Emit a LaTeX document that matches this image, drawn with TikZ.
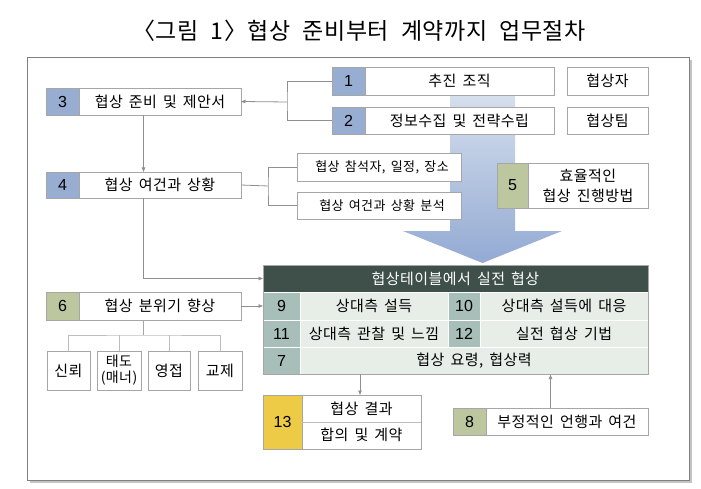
\documentclass[tikz,border=0pt]{standalone}
\usepackage{fontspec}
\setmainfont{Noto Sans CJK KR}[WordSpace=1.6, LetterSpace=3]
\newfontfamily\numfont{Liberation Sans}
\newfontfamily\titlefont{Noto Sans CJK KR}[WordSpace=2.2, LetterSpace=2]
\usetikzlibrary{arrows.meta,calc}
\definecolor{cblue}{HTML}{97ADD2}
\definecolor{colive}{HTML}{BCC7A0}
\definecolor{cyellow}{HTML}{EECB47}
\definecolor{chead}{HTML}{3E5049}
\definecolor{cnum}{HTML}{A8BFB9}
\definecolor{ccell}{HTML}{E7EEE8}
\definecolor{cborder}{HTML}{A6A6A6}
\definecolor{cline}{HTML}{8F8F8F}
\definecolor{ctree}{HTML}{BDBDBD}
\definecolor{carrowtop}{HTML}{D8E1EE}
\definecolor{carrowbot}{HTML}{93AAD3}
\definecolor{cframe}{HTML}{7F7F7F}
\definecolor{cshadow}{HTML}{C4C4C4}
\begin{document}
\begin{tikzpicture}[x=1pt,y=-1pt,
  box/.style={draw=cborder, fill=white, line width=0.6pt, inner sep=0pt, outer sep=0pt, anchor=north west},
  numc/.style={draw=cborder, line width=0.6pt, inner sep=0pt, outer sep=0pt, anchor=north west, font=\numfont\fontsize{16}{18}\selectfont},
  txt/.style={inner sep=0pt, font=\fontsize{15}{20}\selectfont, align=center},
  stxt/.style={inner sep=0pt, font=\fontsize{13}{14}\selectfont, align=center},
  cell/.style={draw=white, line width=0.8pt, inner sep=0pt, outer sep=0pt, anchor=north west},
  conn/.style={draw=cline, line width=0.8pt},
  arr/.style={conn, -{Triangle[length=4.5pt,width=3.5pt]}},
  tree/.style={draw=ctree, line width=0.8pt}
]
\useasboundingbox (0,0) rectangle (701,489);
% title
\node[font=\titlefont\fontsize{23}{25}\selectfont] (title) at (359,31) {〈그림 1〉협상 준비부터 계약까지 업무절차};
% frame
\node[draw=cframe, line width=0.7pt, minimum width=662pt, minimum height=423pt, inner sep=0pt, anchor=north west] (frame) at (27,57) {};
\draw[cshadow, line width=1.8pt] ([xshift=1.5pt,yshift=-3pt]frame.north east) -- ([xshift=1.5pt,yshift=-1.5pt]frame.south east) -- ([xshift=3pt,yshift=-1.5pt]frame.south west);
% big arrow
\path[top color=carrowtop, bottom color=carrowbot] (450,88) -- (515,88) -- (515,231) -- (562,231) -- (482.5,263) -- (403,231) -- (450,231) -- cycle;

% box 1
\node[box, minimum width=222pt, minimum height=28pt] (b1) at (332,67) {};
\node[numc, fill=cblue, minimum width=33pt, minimum height=28pt] (b1n) at (b1.north west) {1};
\node[txt] at ($(b1n.east)!0.5!(b1.east)$) {추진 조직};
% box 2
\node[box, minimum width=222pt, minimum height=27pt] (b2) at (332,107) {};
\node[numc, fill=cblue, minimum width=33pt, minimum height=27pt] (b2n) at (b2.north west) {2};
\node[txt] at ($(b2n.east)!0.5!(b2.east)$) {정보수집 및 전략수립};
% side boxes
\node[box, minimum width=81pt, minimum height=28pt] (s1) at (567,67) {};
\node[txt] at (s1.center) {협상자};
\node[box, minimum width=81pt, minimum height=27pt] (s2) at (567,107) {};
\node[txt] at (s2.center) {협상팀};
% box 3
\node[box, minimum width=195pt, minimum height=27pt] (b3) at (46,88) {};
\node[numc, fill=cblue, minimum width=33pt, minimum height=27pt] (b3n) at (b3.north west) {3};
\node[txt] at ($(b3n.east)!0.5!(b3.east)$) {협상 준비 및 제안서};
% box 4
\node[box, minimum width=195pt, minimum height=26pt] (b4) at (46,172) {};
\node[numc, fill=cblue, minimum width=33pt, minimum height=26pt] (b4n) at (b4.north west) {4};
\node[txt] at ($(b4n.east)!0.5!(b4.east)$) {협상 여건과 상황};
% participant boxes
\node[box, minimum width=164pt, minimum height=28pt] (p1) at (297,153) {};
\node[stxt] at ($(p1.center)+(3,0)$) {협상 참석자, 일정, 장소};
\node[box, minimum width=164pt, minimum height=27pt] (p2) at (297,192) {};
\node[stxt] at ($(p2.center)+(3,0)$) {협상 여건과 상황 분석};
% box 5
\node[box, minimum width=151pt, minimum height=45pt] (b5) at (497,163) {};
\node[numc, fill=colive, minimum width=31pt, minimum height=45pt] (b5n) at (b5.north west) {5};
\node[txt] at ($(b5n.east)!0.5!(b5.east)$) {효율적인\\협상 진행방법};

% connectors top
\coordinate (k12) at (287,102);
\draw[conn] (b1.west) -| (k12) |- (b2.west);
\draw[arr] (k12) -- (b3.east);
\draw[arr] (b3.south) -- (b4.north);
\coordinate (kp) at (268,186);
\draw[conn] (b4.east) -- (kp);
\draw[conn] (p1.west) -| (kp) |- (p2.west);

% table
\node[cell, fill=chead, draw=chead, minimum width=385pt, minimum height=27pt] (th) at (263,265) {};
\node[txt, text=white] at (th.center) {협상테이블에서 실전 협상};
\node[cell, fill=cnum, minimum width=37pt, minimum height=28pt, font=\numfont\fontsize{16}{18}\selectfont] (r1n) at (263,292) {9};
\node[cell, fill=ccell, minimum width=148pt, minimum height=28pt] (r1a) at (300,292) {};
\node[txt] at (r1a.center) {상대측 설득};
\node[cell, fill=cnum, minimum width=32pt, minimum height=28pt, font=\numfont\fontsize{16}{18}\selectfont] (r1m) at (448,292) {10};
\node[cell, fill=ccell, minimum width=168pt, minimum height=28pt] (r1b) at (480,292) {};
\node[txt] at (r1b.center) {상대측 설득에 대응};
\node[cell, fill=cnum, minimum width=37pt, minimum height=27pt, font=\numfont\fontsize{16}{18}\selectfont] (r2n) at (263,320) {11};
\node[cell, fill=ccell, minimum width=148pt, minimum height=27pt] (r2a) at (300,320) {};
\node[txt] at (r2a.center) {상대측 관찰 및 느낌};
\node[cell, fill=cnum, minimum width=32pt, minimum height=27pt, font=\numfont\fontsize{16}{18}\selectfont] (r2m) at (448,320) {12};
\node[cell, fill=ccell, minimum width=168pt, minimum height=27pt] (r2b) at (480,320) {};
\node[txt] at (r2b.center) {실전 협상 기법};
\node[cell, fill=cnum, minimum width=37pt, minimum height=27pt, font=\numfont\fontsize{16}{18}\selectfont] (r3n) at (263,347) {7};
\node[cell, fill=ccell, minimum width=348pt, minimum height=27pt] (r3a) at (300,347) {};
\node[txt] at (r3a.center) {협상 요령, 협상력};
\node[draw=cborder, line width=0.6pt, inner sep=0pt, minimum width=385pt, minimum height=109pt, anchor=north west] (tbl) at (263,265) {};

\draw[arr] (b4.south) |- (th.west);

% box 6
\node[box, minimum width=195pt, minimum height=28pt] (b6) at (46,292) {};
\node[numc, fill=colive, minimum width=33pt, minimum height=28pt] (b6n) at (b6.north west) {6};
\node[txt] at ($(b6n.east)!0.5!(b6.east)$) {협상 분위기 향상};
\draw[arr] (b6.east) -- (r1n.west);
% leaves
\node[box, minimum width=43pt, minimum height=39pt] (l1) at (47,351) {};
\node[txt] at (l1.center) {신뢰};
\node[box, minimum width=44pt, minimum height=39pt] (l2) at (97,351) {};
\node[txt, font=\fontsize{14}{16}\selectfont] at (l2.center) {태도\\(매너)};
\node[box, minimum width=42pt, minimum height=39pt] (l3) at (148,351) {};
\node[txt] at (l3.center) {영접};
\node[box, minimum width=44pt, minimum height=39pt] (l4) at (198,351) {};
\node[txt] at (l4.center) {교제};
\coordinate (kt) at (143.5,335);
\draw[conn, draw=cborder, line width=1pt] (b6.south) -- (kt);
\draw[tree] (l1.north) |- (kt) -| (l4.north);
\draw[tree] (l2.north) -- (l2.north |- kt);
\draw[tree] (l3.north) -- (l3.north |- kt);

% box 13
\node[box, minimum width=158pt, minimum height=54pt] (b13) at (263,395) {};
\node[numc, fill=cyellow, minimum width=39pt, minimum height=54pt] (b13n) at (b13.north west) {13};
\draw[draw=ctree, line width=0.6pt] (b13n.east) -- (b13.east);
\node[txt] at ($(b13n.east)!0.5!(b13.east)+(0,-13.5)$) {협상 결과};
\node[txt] at ($(b13n.east)!0.5!(b13.east)+(0,13)$) {합의 및 계약};
\coordinate (t13) at (360,374);
\draw[arr] (t13) -- (t13 |- b13.north);
% box 8
\node[box, minimum width=195pt, minimum height=27pt] (b8) at (453,408) {};
\node[numc, fill=colive, minimum width=33pt, minimum height=27pt] (b8n) at (b8.north west) {8};
\node[txt] at ($(b8n.east)!0.5!(b8.east)$) {부정적인 언행과 여건};
\draw[arr] (b8.north) -- (b8.north |- tbl.south);
\end{tikzpicture}
\end{document}
